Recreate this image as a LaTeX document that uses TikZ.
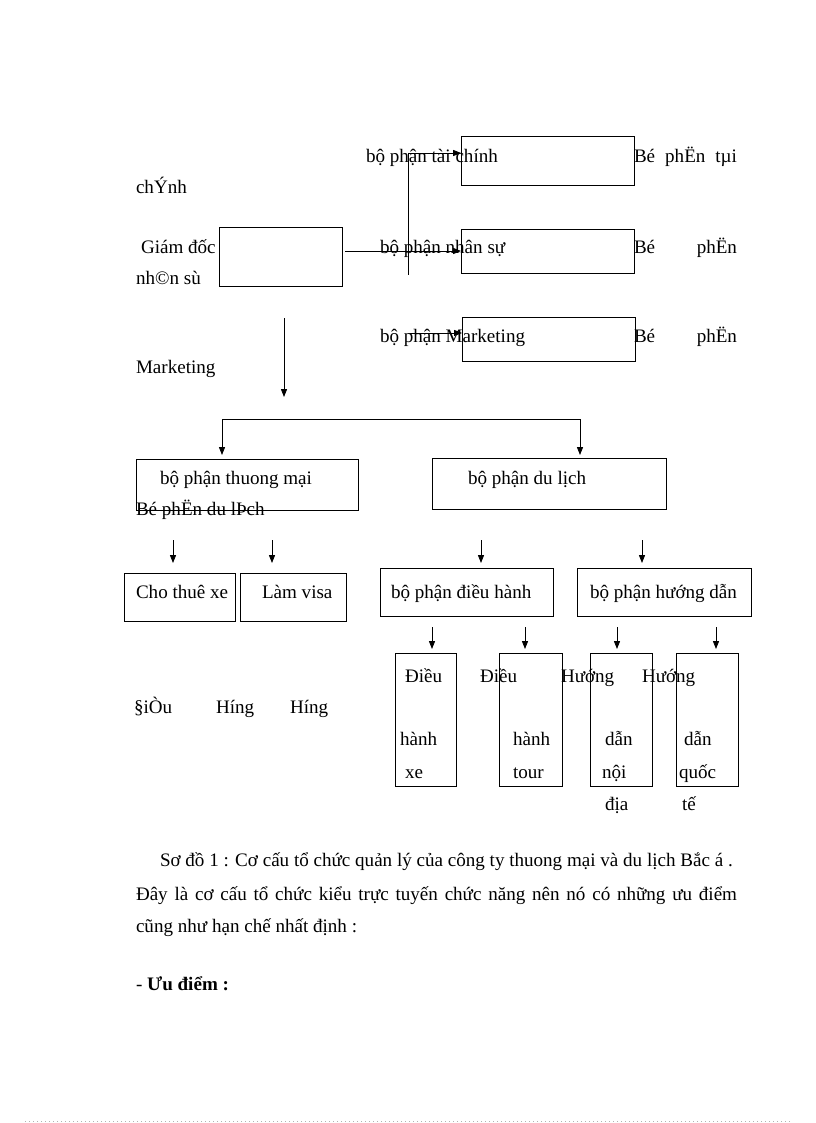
\documentclass[tikz,border=0pt]{standalone}
\usepackage{fontspec}
\setmainfont{Liberation Serif}
\usetikzlibrary{arrows.meta}
\tikzset{
 box/.style={draw, line width=0.6pt, inner sep=0pt, outer sep=0pt},
 lbl/.style={anchor=base west, inner sep=0pt, outer sep=0pt},
 conn/.style={line width=0.6pt},
 arr/.style={conn, -{Triangle[length=6pt,width=4.6pt]}},
}
\newcommand\mkbox[5]{\node[box, minimum width={(#4-#2)*0.75pt}, minimum height={(#5-#3)*0.75pt}] (#1) at ({(#2+#4)/2},{(#3+#5)/2}) {};}
\begin{document}
\begin{tikzpicture}[x=0.75pt,y=-0.75pt, font=\fontsize{14.3pt}{16pt}\selectfont]
\useasboundingbox (0,0) rectangle (816,1123);
\fill[white] (0,0) rectangle (816,1123);
% boxes
\mkbox{tc}{461}{136}{634}{185}
\mkbox{ns}{461}{229}{634}{273}
\mkbox{mk}{462}{317}{635}{361}
\mkbox{gd}{219}{227}{342}{286}
\mkbox{tm}{136}{459}{358}{510}
\mkbox{dl}{432}{458}{666}{509}
\mkbox{ct}{124}{573}{235}{621}
\mkbox{lv}{240}{573}{346}{621}
\mkbox{dh}{380}{568}{553}{616}
\mkbox{hd}{577}{568}{751}{616}
\mkbox{dhx}{395}{653}{456}{786}
\mkbox{dht}{499}{653}{562}{786}
\mkbox{hdn}{590}{653}{652}{786}
\mkbox{hdq}{676}{653}{738}{786}
% connectors
\coordinate (vt) at (408,153);
\coordinate (vb) at (408,275);
\draw[conn] (vt) -- (vb);
\draw[arr] (vt) -- (tc.west |- vt);
\coordinate (g1) at (345,251);
\draw[arr] (g1) -- (ns.west |- g1);
\coordinate (m1) at (410,333);
\draw[arr] (m1) -- (mk.west |- m1);
\coordinate (a0) at (284,318);
\coordinate (a1) at (284,397);
\draw[arr] (a0) -- (a1);
\coordinate (b1) at (222,419);
\coordinate (b2) at (580,419);
\draw[conn] (b1) -- (b2);
\draw[arr] (b1) -- ++(0,36);
\draw[arr] (b2) -- ++(0,36);
\foreach \x in {173,272,481,642} {\coordinate (s) at (\x,540); \draw[arr] (s) -- ++(0,23);}
\foreach \x in {432,525,617,716} {\coordinate (s) at (\x,627); \draw[arr] (s) -- ++(0,22);}
% texts top
\node[lbl] (t1) at (366,163) {bộ phận tài chính};
\node[lbl] (t2) at (634,163) {\makebox[77.25pt][s]{Bé phËn tµi}};
\node[lbl] (t3) at (136,194) {chÝnh};
\node[lbl] (t4) at (141,253) {Giám đốc};
\node[lbl] (t5) at (136,284) {nh©n sù};
\node[lbl] (t6) at (380,253) {bộ phận nhân sự};
\node[lbl] (t7) at (634,253) {\makebox[77.25pt][s]{Bé phËn}};
\node[lbl] (t8) at (380,342) {bộ phận Marketing};
\node[lbl] (t9) at (634,342) {\makebox[77.25pt][s]{Bé phËn}};
\node[lbl] (t10) at (136,373) {Marketing};
% middle
\node[lbl] (t11) at (160,484) {bộ phận thuong mại};
\node[lbl] (t12) at (136,515) {Bé phËn du lÞch};
\node[lbl] (t13) at (468,484) {bộ phận du lịch};
\node[lbl] (t14) at (136,598) {Cho thuê xe};
\node[lbl] (t15) at (262,598) {Làm visa};
\node[lbl] (t16) at (391,598) {bộ phận điều hành};
\node[lbl] (t17) at (590,598) {bộ phận hướng dẫn};
% lower
\node[lbl] at (134,713) {§iÒu};
\node[lbl] at (216,713) {Híng};
\node[lbl] at (290,713) {Híng};
\node[lbl] at (405,682) {Điều};
\node[lbl] at (480,682) {Điều};
\node[lbl] at (561,682) {Hướng};
\node[lbl] at (642,682) {Hướng};
\node[lbl] at (400,745) {hành};
\node[lbl] at (513,745) {hành};
\node[lbl] at (605,745) {dẫn};
\node[lbl] at (684,745) {dẫn};
\node[lbl] at (405,778) {xe};
\node[lbl] at (513,778) {tour};
\node[lbl] at (602,778) {nội};
\node[lbl] at (679,778) {quốc};
\node[lbl] at (605,810) {địa};
\node[lbl] at (682,810) {tế};
% paragraph
\node[lbl] at (160,866) {Sơ đồ 1 : Cơ cấu tổ chức quản lý của công ty thuong mại và du lịch Bắc á .};
\node[lbl] at (136,900) {\makebox[450.75pt][s]{Đây là cơ cấu tổ chức kiểu trực tuyến chức năng nên nó có những ưu điểm}};
\node[lbl] at (136,932) {cũng như hạn chế nhất định :};
\node[lbl] at (136,990) {- \textbf{Ưu điểm :}};
% bottom dotted rule
\draw[gray!60, line width=0.4pt, dash pattern=on 0.6pt off 2.4pt] (25,1121.5) -- (791,1121.5);
\end{tikzpicture}
\end{document}
